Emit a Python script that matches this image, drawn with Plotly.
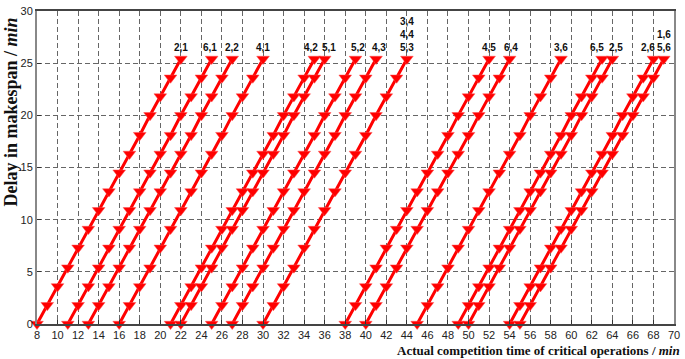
import plotly.graph_objects as go

# ---- data ----
start_times = [8, 11, 13, 16, 21, 22, 25, 27, 30, 38, 40, 45, 49, 50, 54, 55]
op_labels = ["2,1", "6,1", "2,2", "4,1", "4,2", "5,1", "5,2", "4,3",
             "3,4<br>4,4<br>5,3", "4,5", "6,4", "3,6", "6,5", "2,5", "2,6", "1,6<br>5,6"]
step_offsets = [0, 1, 2, 3, 4, 5, 6, 7, 8, 9, 10, 11, 12, 13, 14]
delays = [0, 1.8, 3.6, 5.4, 7.3, 9.1, 10.9, 12.7, 14.5, 16.3, 18.1, 20.0, 21.8, 23.6, 25.4]
x_ticks = list(range(8, 71, 2))
y_ticks = [0, 5, 10, 15, 20, 25, 30]

# label horizontal nudges (style only)
label_shift = [0, -2, 0, 0, -3, 4, 2, 3, 0, 0, 1, 0, -5, 4, -5, 0]

RED = "#ff0000"
fig = go.Figure()
for s in start_times:
    xs = [s + o for o in step_offsets]
    fig.add_trace(go.Scatter(
        x=xs, y=delays, mode="lines+markers",
        line=dict(color=RED, width=3),
        marker=dict(symbol="triangle-down", size=11, color=RED,
                    line=dict(color="#ff5050", width=0.5)),
        cliponaxis=False, showlegend=False, hoverinfo="skip"))

for s, lab, dx in zip(start_times, op_labels, label_shift):
    fig.add_annotation(
        x=s + step_offsets[-1], y=delays[-1], text="<b>" + lab + "</b>",
        showarrow=False, xanchor="center", yanchor="bottom",
        xshift=dx, yshift=4,
        font=dict(family="Liberation Sans, Arial", size=10, color="#111"))

grid_common = dict(showgrid=True, gridcolor="#666666", gridwidth=1,
                   griddash="5px,3px", zeroline=False,
                   ticks="inside", ticklen=4, tickcolor="#333",
                   tickfont=dict(family="Liberation Sans, Arial", size=11, color="#222"),
                   showline=True, mirror=True)

fig.update_xaxes(range=[8, 70], tickvals=x_ticks, linecolor="#444", linewidth=1.5,
                 **grid_common)
fig.update_yaxes(range=[0, 30], tickvals=y_ticks, linecolor="#888", linewidth=2,
                 **grid_common)

fig.add_annotation(
    xref="paper", yref="paper", x=1, y=0, xanchor="right", yanchor="top",
    xshift=8, yshift=-17, showarrow=False,
    text="<b>Actual competition time of critical operations / <i>min</i></b>",
    font=dict(family="Liberation Serif, Times New Roman", size=13, color="#111"))
fig.add_annotation(
    xref="paper", yref="paper", x=0, y=1, xanchor="center", yanchor="top",
    xshift=-27, yshift=-5, showarrow=False, textangle=-90,
    text="<b>Delay in makespan / <i>min</i></b>",
    font=dict(family="Liberation Serif, Times New Roman", size=18, color="#111"))

fig.update_layout(
    width=685, height=359,
    margin=dict(l=37, r=5, t=5, b=35),
    paper_bgcolor="white", plot_bgcolor="white",
)
fig.write_html("out.html", config={"displayModeBar": False},
               post_script="document.body.style.margin='0';document.body.style.overflow='hidden';")
